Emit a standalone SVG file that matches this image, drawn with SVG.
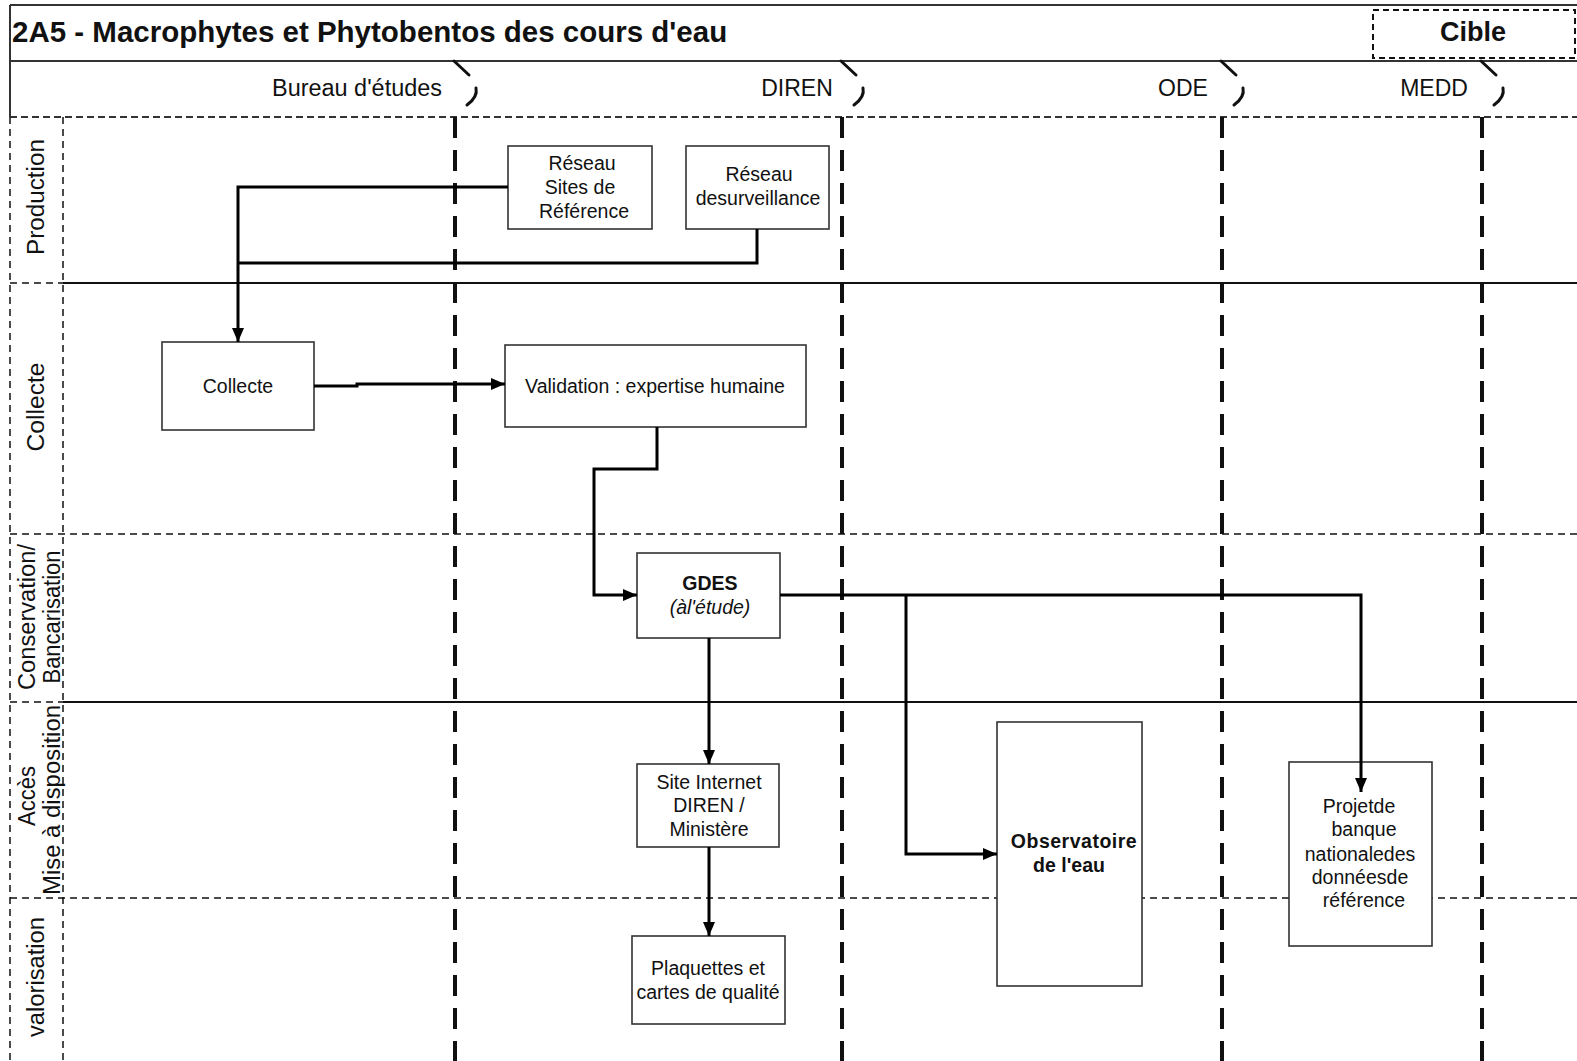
<svg xmlns="http://www.w3.org/2000/svg" width="1577" height="1061" viewBox="0 0 1577 1061">
<defs>
<style>
text{font-family:"Liberation Sans",Arial,sans-serif;fill:#111}
.frame{stroke:#333;stroke-width:2;fill:none}
.solid{stroke:#111;stroke-width:2;fill:none}
.thin{stroke:#111;stroke-width:1.5;fill:none;stroke-dasharray:7 5}
.col{stroke:#111;stroke-width:4;fill:none;stroke-dasharray:21 12}
.brk{stroke:#111;stroke-width:3;fill:none;stroke-linecap:round}
.box{fill:#fff;stroke:#333;stroke-width:1.6}
.nt{font-size:19.5px;text-anchor:middle}
.lane{font-size:23px;text-anchor:middle}
.hdr{font-size:23px;text-anchor:middle}
.conn{stroke:#000;stroke-width:3;fill:none}
</style>
<marker id="arr" viewBox="0 0 14 12" refX="14" refY="6" markerWidth="14" markerHeight="12" markerUnits="userSpaceOnUse" orient="auto">
<path d="M0,0 L14,6 L0,12 z" fill="#000"/>
</marker>
</defs>
<rect width="1577" height="1061" fill="#fff"/>

<g id="frame">
<line class="frame" x1="10" y1="5" x2="1577" y2="5"/>
<line class="frame" x1="10" y1="61" x2="1577" y2="61"/>
<line class="frame" x1="10" y1="5" x2="10" y2="117"/>
<line x1="10" y1="117" x2="1577" y2="117" stroke="#333" stroke-width="2" stroke-dasharray="7 4"/>
<rect x="1373" y="10" width="202" height="48" fill="none" stroke="#111" stroke-width="2" stroke-dasharray="6 4"/>
<text x="12" y="42" font-size="29.5" font-weight="bold">2A5 - Macrophytes et Phytobentos des cours d'eau</text>
<text x="1473" y="41" font-size="27" font-weight="bold" text-anchor="middle">Cible</text>
<text class="hdr" x="357" y="96" textLength="170" lengthAdjust="spacingAndGlyphs">Bureau d'études</text>
<text class="hdr" x="797" y="96">DIREN</text>
<text class="hdr" x="1183" y="96">ODE</text>
<text class="hdr" x="1434" y="96">MEDD</text>
</g>

<g id="lanes">
<line class="thin" x1="10" y1="117" x2="10" y2="1061"/>
<line class="thin" x1="63" y1="117" x2="63" y2="1061"/>
<line class="thin" x1="10" y1="283" x2="63" y2="283"/>
<line class="solid" x1="63" y1="283" x2="1577" y2="283"/>
<line class="thin" x1="10" y1="534" x2="1577" y2="534"/>
<line class="thin" x1="10" y1="702" x2="63" y2="702"/>
<line class="solid" x1="63" y1="702" x2="1577" y2="702"/>
<line class="thin" x1="10" y1="898" x2="1577" y2="898"/>
<text class="lane" transform="translate(44,197) rotate(-90)" textLength="116" lengthAdjust="spacingAndGlyphs">Production</text>
<text class="lane" transform="translate(44,407) rotate(-90)" textLength="89" lengthAdjust="spacingAndGlyphs">Collecte</text>
<text class="lane" transform="translate(35,617) rotate(-90)" textLength="146" lengthAdjust="spacingAndGlyphs">Conservation/</text>
<text class="lane" transform="translate(60,617) rotate(-90)" textLength="133" lengthAdjust="spacingAndGlyphs">Bancarisation</text>
<text class="lane" transform="translate(35,796) rotate(-90)" textLength="60" lengthAdjust="spacingAndGlyphs">Accès</text>
<text class="lane" transform="translate(60,800) rotate(-90)" textLength="190" lengthAdjust="spacingAndGlyphs">Mise à disposition</text>
<text class="lane" transform="translate(44,977) rotate(-90)" textLength="120" lengthAdjust="spacingAndGlyphs">valorisation</text>
</g>

<g id="columns">
<line class="col" x1="455" y1="117" x2="455" y2="1061"/>
<line class="col" x1="842" y1="117" x2="842" y2="1061"/>
<line class="col" x1="1222" y1="117" x2="1222" y2="1061"/>
<line class="col" x1="1482" y1="117" x2="1482" y2="1061"/>
<path class="brk" d="M454,61 L469,75 M476,88 Q478,97 467,105"/>
<path class="brk" d="M841,61 L856,75 M863,88 Q865,97 854,105"/>
<path class="brk" d="M1221,61 L1236,75 M1243,88 Q1245,97 1234,105"/>
<path class="brk" d="M1481,61 L1496,75 M1503,88 Q1505,97 1494,105"/>
</g>

<g id="n-reseau-sites">
<rect class="box" x="508" y="146" width="144" height="83"/>
<text class="nt" x="582" y="170">Réseau</text>
<text class="nt" x="580" y="194">Sites de</text>
<text class="nt" x="584" y="218">Référence</text>
</g>
<g id="n-reseau-surv">
<rect class="box" x="686" y="146" width="143" height="83"/>
<text class="nt" x="759" y="181">Réseau</text>
<text class="nt" x="758" y="205">desurveillance</text>
</g>
<g id="n-collecte">
<rect class="box" x="162" y="342" width="152" height="88"/>
<text class="nt" x="238" y="393">Collecte</text>
</g>
<g id="n-validation">
<rect class="box" x="505" y="345" width="301" height="82"/>
<text class="nt" x="655" y="393">Validation : expertise humaine</text>
</g>
<g id="n-gdes">
<rect class="box" x="637" y="553" width="143" height="85"/>
<text class="nt" x="710" y="590" font-weight="bold">GDES</text>
<text class="nt" x="710" y="614" font-style="italic">(àl'étude)</text>
</g>
<g id="n-site">
<rect class="box" x="637" y="764" width="142" height="83"/>
<text class="nt" x="709" y="789">Site Internet</text>
<text class="nt" x="709" y="812">DIREN /</text>
<text class="nt" x="709" y="836">Ministère</text>
</g>
<g id="n-plaquettes">
<rect class="box" x="632" y="936" width="153" height="88"/>
<text class="nt" x="708" y="975">Plaquettes et</text>
<text class="nt" x="708" y="999">cartes de qualité</text>
</g>
<g id="n-observatoire">
<rect class="box" x="997" y="722" width="145" height="264"/>
<text class="nt" x="1074" y="848" font-weight="bold" letter-spacing="0.5">Observatoire</text>
<text class="nt" x="1069" y="872" font-weight="bold">de l'eau</text>
</g>
<g id="n-projet">
<rect class="box" x="1289" y="762" width="143" height="184"/>
<text class="nt" x="1359" y="813">Projetde</text>
<text class="nt" x="1364" y="836">banque</text>
<text class="nt" x="1360" y="861">nationaledes</text>
<text class="nt" x="1360" y="884">donnéesde</text>
<text class="nt" x="1364" y="907">référence</text>
</g>

<g id="connectors">
<path class="conn" d="M508,187 H238 V342" marker-end="url(#arr)"/>
<path class="conn" d="M757,229 V263 H238"/>
<path class="conn" d="M314,386 H357 V384 H505" marker-end="url(#arr)"/>
<path class="conn" d="M657,427 V469 H594 V595 H637" marker-end="url(#arr)"/>
<path class="conn" d="M709,638 V764" marker-end="url(#arr)"/>
<path class="conn" d="M709,847 V936" marker-end="url(#arr)"/>
<path class="conn" d="M780,595 H1361 V792" marker-end="url(#arr)"/>
<path class="conn" d="M906,595 V854 H997" marker-end="url(#arr)"/>
</g>
</svg>
